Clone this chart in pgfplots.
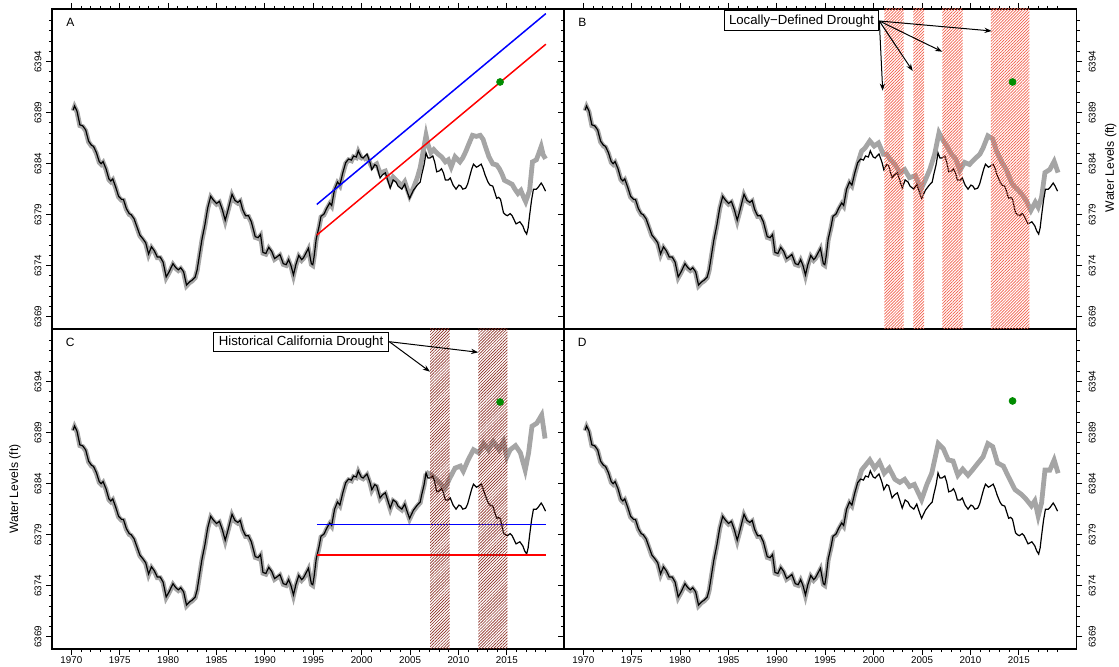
\documentclass[border=0pt]{standalone}
\usepackage{fontspec}
\setmainfont{Liberation Sans}
\usepackage{pgfplots}
\pgfplotsset{compat=1.18}
\usepackage{pgfplotstable}
\usetikzlibrary{patterns.meta, arrows.meta}

\definecolor{hatchB}{RGB}{242,95,75}
\definecolor{hatchC}{RGB}{140,45,35}
\definecolor{gline}{RGB}{165,165,165}
\definecolor{gdot}{RGB}{0,140,0}
\definecolor{pblue}{RGB}{0,0,255}
\definecolor{pred}{RGB}{255,0,0}

\pgfplotstableread{
x y
1970.18 6389.25
1970.33 6389.65
1970.58 6389.15
1970.88 6387.8
1971.18 6387.7
1971.48 6387.3
1971.78 6386.2
1972.08 6385.8
1972.28 6385.7
1972.58 6385.1
1972.88 6384.2
1973.08 6384.0
1973.28 6384.2
1973.58 6383.5
1973.88 6382.5
1974.08 6382.3
1974.28 6382.5
1974.58 6381.7
1974.88 6380.8
1975.18 6380.5
1975.38 6380.5
1975.68 6379.6
1975.98 6379.1
1976.18 6379.0
1976.48 6378.6
1976.78 6377.8
1977.08 6377.0
1977.38 6376.65
1977.68 6376.25
1977.98 6375.15
1978.28 6375.85
1978.58 6375.45
1978.88 6374.85
1979.18 6374.85
1979.48 6374.35
1979.8 6372.9
1980.1 6373.4
1980.5 6374.2
1980.8 6373.8
1981.05 6373.6
1981.3 6373.8
1981.6 6373.4
1981.9 6372.1
1982.2 6372.4
1982.5 6372.6
1982.8 6372.9
1983.0 6373.6
1983.2 6374.8
1983.5 6376.6
1983.8 6378.0
1984.1 6379.7
1984.4 6380.8
1984.7 6380.4
1985.0 6380.1
1985.3 6380.3
1985.6 6379.5
1985.9 6378.45
1986.2 6379.5
1986.6 6381.0
1986.9 6380.4
1987.2 6380.2
1987.45 6380.4
1987.7 6379.5
1988.0 6378.9
1988.3 6378.9
1988.6 6378.3
1989.0 6376.85
1989.3 6376.75
1989.55 6377.05
1989.8 6375.3
1990.1 6375.2
1990.4 6375.8
1990.7 6375.4
1991.0 6374.7
1991.3 6374.9
1991.55 6375.1
1991.9 6374.2
1992.2 6374.1
1992.45 6374.6
1992.7 6374.0
1992.95 6373.1
1993.2 6374.1
1993.5 6375.0
1993.8 6374.6
1994.0 6374.8
1994.5 6375.7
1994.8 6374.2
1994.95 6374.1
1995.1 6375.0
1995.3 6376.6
1995.6 6377.85
1995.8 6378.85
1996.1 6379.05
1996.4 6379.65
1996.7 6380.15
1996.9 6379.9
1997.2 6381.5
1997.5 6382.2
1997.75 6381.9
1998.05 6383.1
1998.35 6384.1
1998.65 6384.45
1998.95 6384.35
1999.15 6384.75
1999.45 6384.65
1999.65 6385.25
1999.95 6384.65
2000.15 6384.55
2000.55 6384.95
2000.85 6384.15
2001.05 6383.4
2001.35 6383.9
2001.55 6383.8
2001.9 6382.6
2002.15 6382.9
2002.45 6383.1
2002.95 6381.6
2003.25 6382.4
2003.55 6382.2
2003.75 6381.8
2004.15 6381.5
2004.45 6382.0
2004.65 6381.4
2004.95 6380.6
2005.15 6381.0
2005.35 6381.4
2005.75 6381.9
2006.05 6382.2
2006.2 6382.9
2006.45 6383.9
2006.65 6385.05
2006.85 6384.55
2007.05 6384.55
2007.35 6384.75
2007.55 6384.15
2007.75 6383.2
2008.05 6383.3
2008.25 6383.5
2008.45 6383.1
2008.65 6382.4
2008.95 6382.4
2009.15 6382.6
2009.45 6381.9
2009.75 6381.5
2010.05 6381.9
2010.25 6381.8
2010.45 6381.5
2010.75 6381.6
2010.95 6382.0
2011.15 6382.7
2011.35 6383.4
2011.55 6383.95
2011.85 6383.65
2012.05 6383.75
2012.35 6383.95
2012.55 6383.5
2012.75 6382.9
2013.05 6382.2
2013.25 6381.9
2013.55 6381.8
2013.75 6381.2
2013.95 6380.6
2014.15 6380.7
2014.35 6380.5
2014.65 6379.2
2014.85 6379.0
2015.05 6378.9
2015.35 6379.1
2015.55 6378.9
2015.75 6378.5
2015.95 6378.1
2016.15 6378.2
2016.35 6378.3
2016.65 6377.9
2016.85 6377.4
2017.05 6377.1
2017.2 6377.7
2017.35 6378.9
2017.55 6380.4
2017.75 6381.5
2018.05 6381.5
2018.25 6381.7
2018.55 6382.1
2018.75 6381.8
2019.0 6381.3
}\blackdata

\pgfplotstableread{
x y
2000.15 6384.45
2000.55 6384.75
2001.05 6383.75
2001.55 6384.05
2001.9 6383.15
2002.45 6383.35
2002.95 6382.15
2003.25 6382.75
2003.85 6382.2
2004.15 6381.9
2004.45 6382.3
2004.95 6380.9
2005.35 6381.7
2005.75 6382.7
2006.05 6383.7
2006.35 6385.25
2006.65 6386.85
2006.85 6385.95
2007.15 6385.15
2007.45 6385.45
2007.85 6385.05
2008.25 6384.75
2008.65 6384.25
2008.95 6384.45
2009.25 6383.75
2009.65 6384.75
2010.15 6384.25
2010.45 6384.65
2010.75 6385.25
2011.05 6385.95
2011.45 6386.85
2011.85 6386.75
2012.25 6386.85
2012.55 6386.45
2012.75 6385.85
2013.15 6384.75
2013.55 6384.05
2013.95 6383.95
2014.25 6383.55
2014.55 6382.95
2014.75 6382.45
2015.15 6382.25
2015.55 6382.05
2015.85 6381.55
2016.15 6381.15
2016.45 6381.45
2016.75 6380.75
2016.95 6380.35
2017.35 6381.45
2017.65 6384.25
2018.05 6384.45
2018.25 6384.95
2018.55 6385.75
2018.75 6384.95
2019.0 6384.55
}\grayA

\pgfplotstableread{
x y
1998.35 6384.1
1998.75 6385.3
1999.1 6385.6
1999.6 6386.3
2000.05 6385.8
2000.5 6386.1
2001.0 6385.0
2001.35 6385.0
2001.7 6384.5
2002.2 6384.0
2002.7 6383.2
2003.2 6383.5
2003.7 6382.7
2004.3 6382.9
2004.9 6381.6
2005.3 6382.4
2005.8 6383.5
2006.3 6385.0
2006.75 6387.1
2007.2 6386.3
2007.5 6385.9
2008.05 6385.0
2008.5 6384.5
2008.9 6383.4
2009.4 6384.2
2009.9 6384.0
2010.4 6384.5
2010.97 6385.0
2011.3 6385.6
2011.8 6386.8
2012.3 6386.5
2012.7 6385.3
2013.2 6384.3
2013.7 6383.5
2014.3 6382.1
2014.8 6381.6
2015.3 6381.1
2015.8 6380.4
2016.25 6379.5
2016.7 6380.3
2017.0 6379.8
2017.35 6380.8
2017.7 6383.2
2018.2 6383.5
2018.65 6384.3
2019.05 6383.2
}\grayB

\pgfplotstableread{
x y
2006.65 6385.2
2007.25 6384.9
2007.9 6384.3
2008.6 6383.6
2009.1 6384.6
2009.65 6385.6
2010.2 6385.8
2010.5 6385.3
2011.0 6386.4
2011.55 6387.4
2012.1 6387.1
2012.6 6388.0
2013.1 6387.4
2013.6 6388.2
2014.2 6387.4
2014.65 6388.2
2015.0 6386.7
2015.35 6387.4
2015.9 6387.8
2016.4 6387.1
2016.9 6385.4
2017.25 6387.1
2017.6 6389.7
2018.1 6390.0
2018.6 6390.8
2018.95 6388.5
}\grayC

\pgfplotstableread{
x y
1998.35 6384.1
1998.75 6385.4
1999.6 6386.4
2000.1 6385.6
2000.6 6386.2
2001.1 6385.1
2001.6 6385.6
2002.2 6384.5
2002.7 6384.2
2003.2 6384.5
2003.7 6383.8
2004.2 6384.0
2004.95 6382.5
2005.5 6384.0
2006.0 6385.1
2006.67 6388.0
2007.2 6387.5
2007.7 6386.4
2008.2 6386.3
2008.7 6384.9
2009.2 6385.5
2009.75 6384.9
2010.2 6385.4
2010.7 6386.0
2011.3 6386.7
2011.8 6388.0
2012.3 6387.7
2012.8 6386.1
2013.4 6385.8
2013.9 6384.8
2014.6 6383.5
2015.3 6383.0
2015.8 6382.5
2016.3 6381.9
2016.65 6382.4
2017.0 6380.9
2017.35 6382.2
2017.7 6385.4
2018.2 6385.4
2018.65 6386.4
2019.06 6385.1
}\grayD

\pgfplotsset{
  panel/.style={
    width=256.2pt, height=160pt, scale only axis,
    xmin=1968, xmax=2020.95, ymin=6367.8, ymax=6399.15,
    axis line style={line width=0.6pt},
    tick align=outside,
    major tick length=3pt, minor tick length=1.6pt,
    tick style={black, line width=0.5pt},
    xtick={1970,1975,...,2015},
    minor xtick={1971,1972,...,2019},
    ytick={6369,6374,...,6394},
    minor ytick={6369,6370,...,6398},
    yticklabels={6369,6374,6379,6384,6389,6394},
    tick label style={font=\fontsize{4.9}{5}\selectfont},
    xticklabel style={yshift=2.6pt},
    anchor=north west,
  },
  leftlabels/.style={ytick pos=left, yticklabel pos=left,
    yticklabel style={xshift=1.3pt, rotate=90, anchor=south}},
  rightlabels/.style={ytick pos=both, yticklabel pos=right,
    yticklabel style={xshift=-0.3pt, rotate=90, anchor=north}},
  grayline/.style={draw=gline, line width=2.4pt, yshift=-0.4pt},
  blackline/.style={draw=black, line width=0.6pt},
  refline/.style={line width=0.75pt},
  gdotstyle/.style={only marks, mark=*, mark size=1.7pt, mark options={draw=gdot, fill=gdot}},
  hatchb/.style={draw=none, pattern={Lines[angle=45,distance=1.05pt,line width=0.35pt]}, pattern color=hatchB},
  hatchc/.style={draw=none, pattern={Lines[angle=45,distance=1.05pt,line width=0.32pt]}, pattern color=hatchC},
}

\begin{document}
\begin{tikzpicture}
\useasboundingbox (0pt,0pt) rectangle (559.5pt,-333.5pt);

% Panel A
\begin{axis}[panel, leftlabels, at={(26pt,-4.5pt)},
  xtick pos=right, xticklabels={}]
\addplot[grayline, restrict x to domain=1969:2000.2] table {\blackdata};
\addplot[grayline] table {\grayA};
\addplot[blackline] table {\blackdata};
\addplot[draw=pblue, refline] coordinates {(1995.36,6380.0) (2019.03,6398.7)};
\addplot[draw=pred, refline] coordinates {(1995.36,6377.0) (2019.03,6395.7)};
\addplot[gdotstyle] coordinates {(2014.3,6392.0)};
\end{axis}

% Panel C
\begin{axis}[panel, leftlabels, at={(26pt,-164.5pt)},
  xtick pos=left, xticklabels={1970,1975,1980,1985,1990,1995,2000,2005,2010,2015}]
\addplot[grayline, restrict x to domain=1969:2006.7] table {\blackdata};
\addplot[grayline] table {\grayC};
\addplot[blackline] table {\blackdata};
\addplot[draw=pred, refline] coordinates {(1995.36,6377.0) (2019.03,6377.0)};
\addplot[draw=pblue, refline] coordinates {(1995.36,6380.0) (2019.03,6380.0)};
\addplot[gdotstyle] coordinates {(2014.3,6392.0)};
\addplot[hatchc] coordinates {(2007.07,6360) (2009.1,6360) (2009.1,6405) (2007.07,6405)};
\addplot[hatchc] coordinates {(2012.06,6360) (2015.06,6360) (2015.06,6405) (2012.06,6405)};
\end{axis}

% Panel D
\begin{axis}[panel, rightlabels, at={(282pt,-164.5pt)},
  xtick pos=left, xticklabels={1970,1975,1980,1985,1990,1995,2000,2005,2010,2015}]
\addplot[grayline, restrict x to domain=1969:1998.4] table {\blackdata};
\addplot[grayline] table {\grayD};
\addplot[blackline] table {\blackdata};
\addplot[gdotstyle] coordinates {(2014.35,6392.1)};
\end{axis}

% Panel B
\begin{axis}[panel, rightlabels, at={(282pt,-4.5pt)},
  xtick pos=right, xticklabels={}]
\addplot[grayline, restrict x to domain=1969:1998.4] table {\blackdata};
\addplot[grayline] table {\grayB};
\addplot[blackline] table {\blackdata};
\addplot[gdotstyle] coordinates {(2014.35,6392.0)};
\addplot[hatchb] coordinates {(2001.1,6360) (2003.1,6360) (2003.1,6405) (2001.1,6405)};
\addplot[hatchb] coordinates {(2004.1,6360) (2005.2,6360) (2005.2,6405) (2004.1,6405)};
\addplot[hatchb] coordinates {(2007.1,6360) (2009.2,6360) (2009.2,6405) (2007.1,6405)};
\addplot[hatchb] coordinates {(2012.1,6360) (2016.1,6360) (2016.1,6405) (2012.1,6405)};
\end{axis}

% panel letters
\node[font=\fontsize{6}{7}\selectfont] at (35.15pt,-11.25pt) {A};
\node[font=\fontsize{6}{7}\selectfont] at (291.15pt,-11.25pt) {B};
\node[font=\fontsize{6}{7}\selectfont] at (35.15pt,-171.4pt) {C};
\node[font=\fontsize{6}{7}\selectfont] at (291.15pt,-171.4pt) {D};

% axis titles
\node[rotate=90, font=\fontsize{6.1}{7}\selectfont] at (7.5pt,-244.5pt) {Water Levels (ft)};
\node[rotate=90, font=\fontsize{6.1}{7}\selectfont] at (555.35pt,-83.75pt) {Water Levels (ft)};

% annotations
\node[draw, line width=0.5pt, fill=white, minimum width=77.2pt, minimum height=10pt, inner sep=0pt,
  font=\fontsize{6.6}{7}\selectfont] at (400.75pt,-10.5pt) {Locally−Defined Drought};
\begin{scope}[line width=0.5pt, -{Stealth[length=3.6pt,width=2.6pt]}]
\draw (439.65pt,-10.5pt) -- (441.35pt,-45.35pt);
\draw (439.65pt,-10.5pt) -- (456.35pt,-35.5pt);
\draw (439.65pt,-10.5pt) -- (471.15pt,-25.85pt);
\draw (439.65pt,-10.5pt) -- (495.85pt,-15.5pt);
\end{scope}

\node[draw, line width=0.5pt, fill=white, minimum width=87.15pt, minimum height=9.7pt, inner sep=0pt,
  font=\fontsize{6.6}{7}\selectfont] at (150.55pt,-171pt) {Historical California Drought};
\begin{scope}[line width=0.5pt, -{Stealth[length=3.6pt,width=2.6pt]}]
\draw (194.65pt,-170.85pt) -- (215pt,-185.85pt);
\draw (194.65pt,-170.85pt) -- (239.15pt,-176.15pt);
\end{scope}
\end{tikzpicture}
\end{document}
